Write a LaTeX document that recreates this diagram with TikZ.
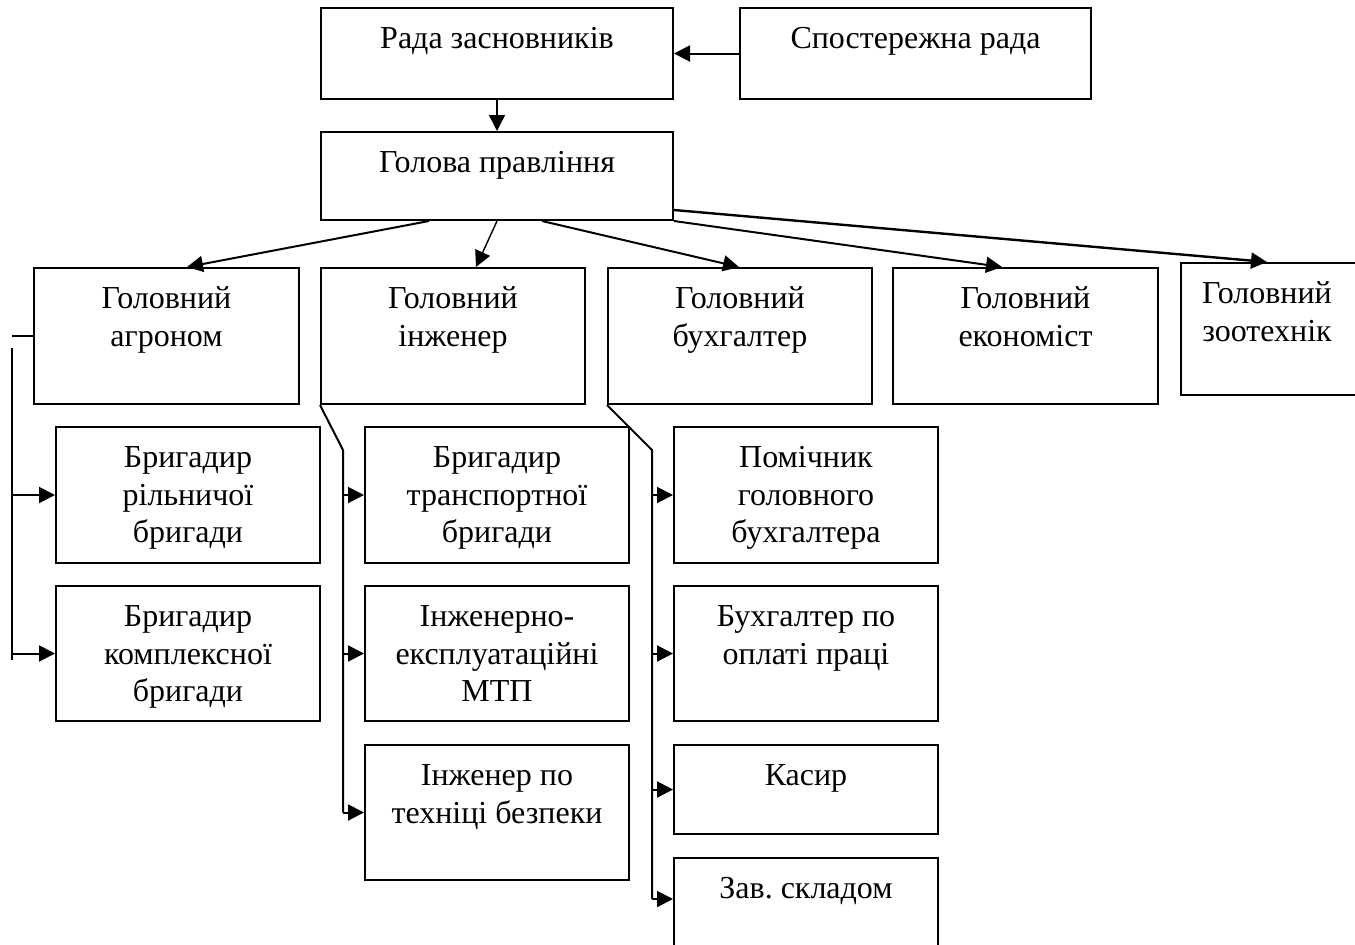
\documentclass[tikz,border=0pt]{standalone}
\usepackage{fontspec}
\setmainfont{Liberation Serif}
\usetikzlibrary{arrows.meta,calc,fit}
\begin{document}
\begin{tikzpicture}[x=0.5pt,y=-0.5pt,
  box/.style={draw, line width=1pt, inner sep=0pt, rectangle},
  txt/.style={align=center, inner sep=0pt, anchor=north, font=\fontsize{16}{18.75}\selectfont},
  conn/.style={line width=1pt},
  arr/.style={conn, -{Triangle[length=8pt,width=8pt]}}]
\useasboundingbox (0,0) rectangle (1355,944);
% boxes
\node[box, fit={(321,8) (673,99)}] (rz) {};
\node[box, fit={(740,8) (1091,99)}] (sp) {};
\node[box, fit={(321,132) (673,220)}] (gp) {};
\node[box, fit={(34,268) (299,404)}] (agr) {};
\node[box, fit={(321,268) (585,404)}] (eng) {};
\node[box, fit={(608,268) (872,404)}] (buh) {};
\node[box, fit={(893,268) (1158,404)}] (eco) {};
\node[box, fit={(1181,263) (1360,395)}] (zoo) {};
\node[box, fit={(56,427) (320,563)}] (rl) {};
\node[box, fit={(56,586) (320,721)}] (kb) {};
\node[box, fit={(365,427) (629,563)}] (tr) {};
\node[box, fit={(365,586) (629,721)}] (mtp) {};
\node[box, fit={(365,745) (629,880)}] (tb) {};
\node[box, fit={(674,427) (938,563)}] (pom) {};
\node[box, fit={(674,586) (938,721)}] (opl) {};
\node[box, fit={(674,745) (938,834)}] (kas) {};
\node[box, fit={(674,858) (938,950)}] (zav) {};
% texts
\node[txt] (rzt) at ($(rz.north)+(0,15)$) {\strut Рада засновників};
\node[txt] (spt) at ($(sp.north)+(0,15)$) {\strut Спостережна рада};
\node[txt] (gpt) at ($(gp.north)+(0,15)$) {\strut Голова правління};
\node[txt] (agrt) at ($(agr.north)+(0,15)$) {\strut Головний\\агроном};
\node[txt] (engt) at ($(eng.north)+(0,15)$) {\strut Головний\\інженер};
\node[txt] (buht) at ($(buh.north)+(0,15)$) {\strut Головний\\бухгалтер};
\node[txt] (ecot) at ($(eco.north)+(0,15)$) {\strut Головний\\економіст};
\node[txt] (zoot) at ($(zoo.north west)+(87,15)$) {\strut Головний\\зоотехнік};
\node[txt] (rlt) at ($(rl.north)+(0,15)$) {\strut Бригадир\\рільничої\\бригади};
\node[txt] (kbt) at ($(kb.north)+(0,15)$) {\strut Бригадир\\комплексної\\бригади};
\node[txt] (trt) at ($(tr.north)+(0,15)$) {\strut Бригадир\\транспортної\\бригади};
\node[txt] (mtpt) at ($(mtp.north)+(0,15)$) {\strut Інженерно-\\експлуатаційні\\МТП};
\node[txt] (tbt) at ($(tb.north)+(0,15)$) {\strut Інженер по\\техніці безпеки};
\node[txt] (pomt) at ($(pom.north)+(0,15)$) {\strut Помічник\\головного\\бухгалтера};
\node[txt] (oplt) at ($(opl.north)+(0,15)$) {\strut Бухгалтер по\\оплаті праці};
\node[txt] (kast) at ($(kas.north)+(0,15)$) {\strut Касир};
\node[txt] (zavt) at ($(zav.north)+(0,15)$) {\strut Зав.\ складом};
% top connectors
\draw[arr] (sp.west) -- (rz.east);
\draw[arr, line width=0.7pt] (rz.south) -- (gp.north);
\draw[arr] ($(gp.south west)+(109,0)$) -- ($(agr.north west)+(154,0)$);
\draw[arr, line width=0.7pt] (gp.south) -- ($(eng.north west)+(156,0)$);
\draw[arr] ($(gp.south west)+(222,0)$) -- ($(buh.north west)+(132,0)$);
\draw[arr] (gp.south east) -- ($(eco.north west)+(110,0)$);
\draw[arr, line width=1.2pt] ($(gp.north east)+(0,79)$) -- ($(zoo.north west)+(87,0)$);
% left group
\coordinate (lt) at (12,348);
\draw[conn] (agr.west) -- (agr.west -| lt);
\draw[conn] (lt) -- ($(kb.west -| lt)+(0,6)$);
\draw[arr] (rl.west -| lt) -- (rl.west);
\draw[arr] (kb.west -| lt) -- (kb.west);
% middle group
\coordinate (mb) at (343,450);
\draw[conn] (eng.south west) -- (mb) -- (tb.west -| mb);
\draw[arr] (tr.west -| mb) -- (tr.west);
\draw[arr] (mtp.west -| mb) -- (mtp.west);
\draw[arr] (tb.west -| mb) -- (tb.west);
% right group
\coordinate (rb) at (652,450);
\coordinate (zavin) at ($(zav.north west)+(0,42)$);
\draw[conn] (buh.south west) -- (rb) -- (zavin -| rb);
\draw[arr] (pom.west -| rb) -- (pom.west);
\draw[arr] (opl.west -| rb) -- (opl.west);
\draw[arr] (kas.west -| rb) -- (kas.west);
\draw[arr] (zavin -| rb) -- (zavin);
\end{tikzpicture}
\end{document}
